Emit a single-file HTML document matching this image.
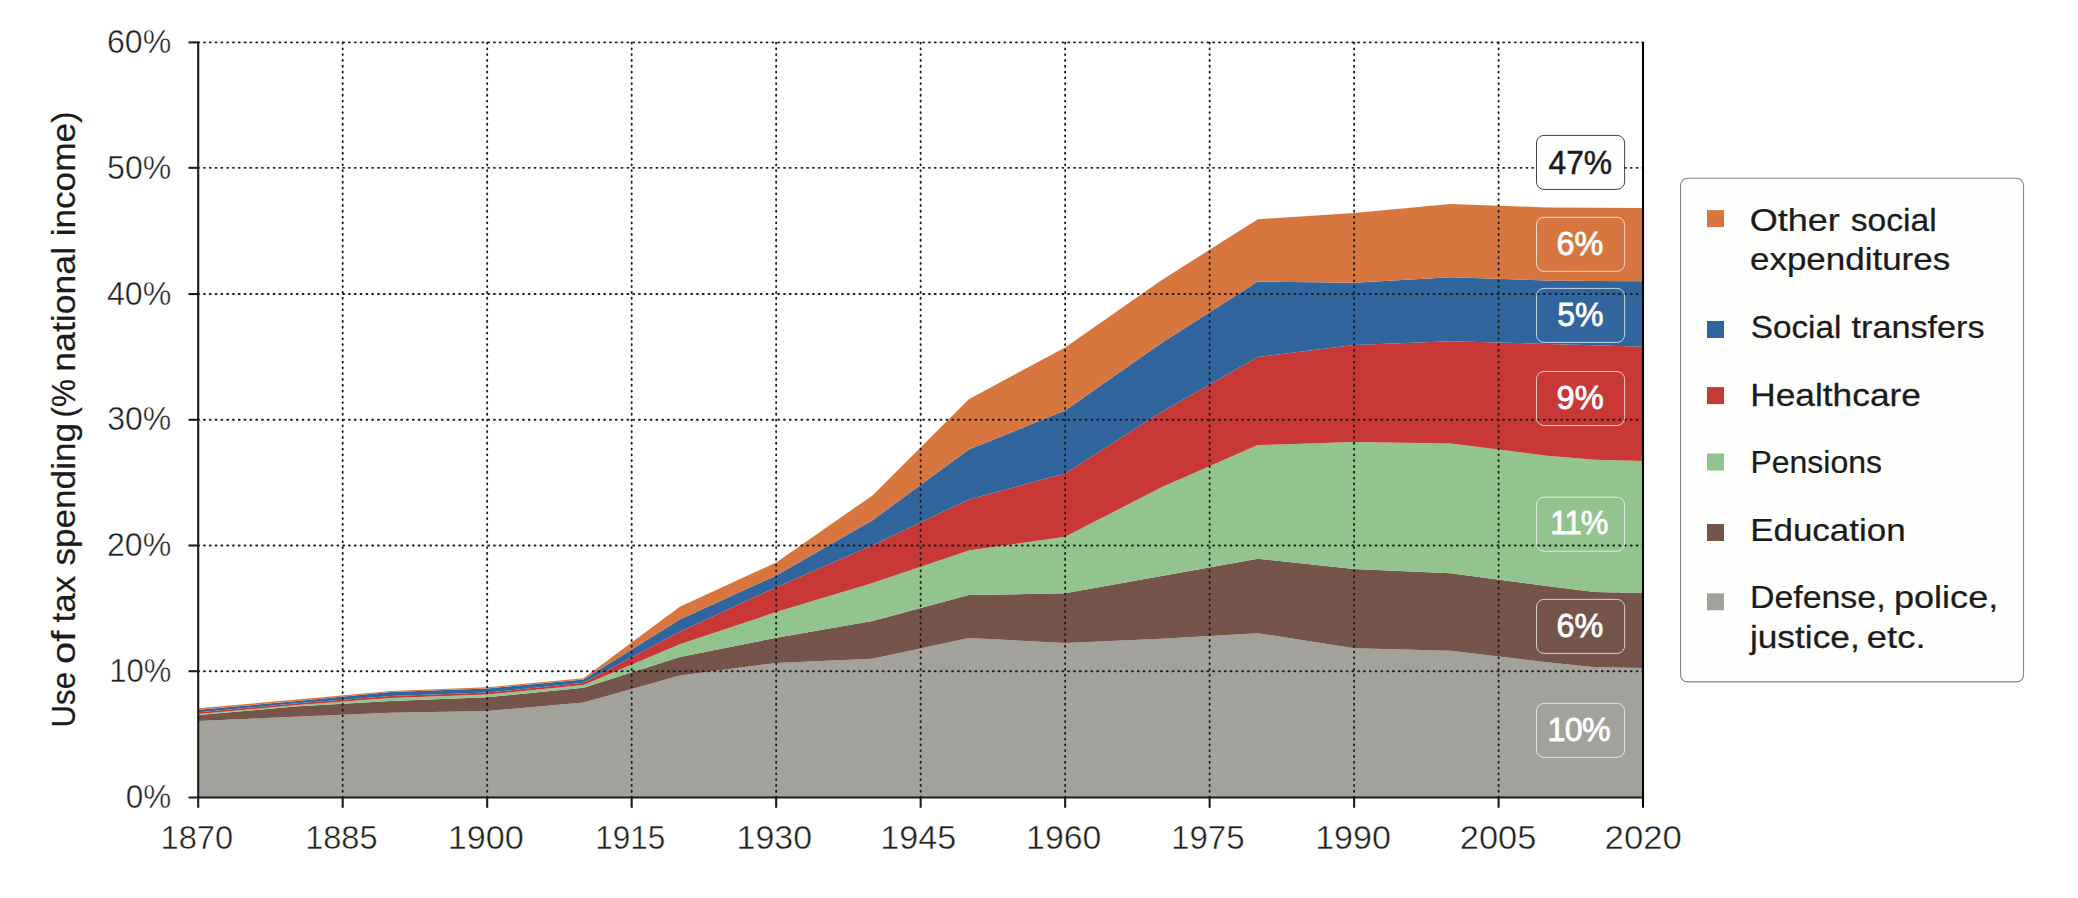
<!DOCTYPE html>
<html lang="en"><head><meta charset="utf-8">
<title>Use of tax spending (% national income)</title>
<style>
html,body{margin:0;padding:0;background:#ffffff;}
body{width:2078px;height:898px;overflow:hidden;}
svg{display:block;}
text{font-family:"Liberation Sans", sans-serif;fill:#1b1b1b;}
.tick{fill:#1f1f1f;stroke:#ffffff;stroke-width:0.45px;}
.leg{stroke:#1b1b1b;stroke-width:0.25px;}
.ylab{stroke:#1b1b1b;stroke-width:0.2px;}
.val{fill:#ffffff;stroke:#ffffff;stroke-width:0.8px;}
.grid{stroke:#1b1b1b;stroke-width:1.9;stroke-dasharray:0.9 4.9;stroke-linecap:round;fill:none;}
.axis{stroke:#1b1b1b;stroke-width:2.1;fill:none;}
</style></head><body>
<svg width="2078" height="898" viewBox="0 0 2078 898">
<rect x="0" y="0" width="2078" height="898" fill="#ffffff"/>
<g id="areas" shape-rendering="geometricPrecision">
<polygon fill="#a3a19c" points="198.2,721.0 294.5,716.7 390.9,712.7 487.2,711.0 583.5,702.4 679.8,675.4 776.2,663.0 872.5,658.7 968.8,638.1 1065.1,643.0 1161.5,638.8 1257.8,633.2 1354.1,648.2 1450.4,650.8 1546.8,662.2 1594.9,667.2 1643.1,667.9 1643.1,797.5 1594.9,797.5 1546.8,797.5 1450.4,797.5 1354.1,797.5 1257.8,797.5 1161.5,797.5 1065.1,797.5 968.8,797.5 872.5,797.5 776.2,797.5 679.8,797.5 583.5,797.5 487.2,797.5 390.9,797.5 294.5,797.5 198.2,797.5"/>
<polygon fill="#755549" points="198.2,715.0 294.5,706.6 390.9,701.1 487.2,697.3 583.5,687.7 679.8,656.9 776.2,637.8 872.5,620.9 968.8,595.1 1065.1,593.2 1161.5,576.0 1257.8,558.8 1354.1,568.9 1450.4,573.2 1546.8,585.9 1594.9,592.0 1643.1,592.9 1643.1,667.9 1594.9,667.2 1546.8,662.2 1450.4,650.8 1354.1,648.2 1257.8,633.2 1161.5,638.8 1065.1,643.0 968.8,638.1 872.5,658.7 776.2,663.0 679.8,675.4 583.5,702.4 487.2,711.0 390.9,712.7 294.5,716.7 198.2,721.0"/>
<polygon fill="#93c38e" points="198.2,714.0 294.5,705.3 390.9,698.0 487.2,694.4 583.5,685.1 679.8,644.3 776.2,612.1 872.5,583.1 968.8,550.6 1065.1,536.8 1161.5,487.3 1257.8,445.1 1354.1,441.9 1450.4,443.6 1546.8,455.7 1594.9,459.7 1643.1,461.1 1643.1,592.9 1594.9,592.0 1546.8,585.9 1450.4,573.2 1354.1,568.9 1257.8,558.8 1161.5,576.0 1065.1,593.2 968.8,595.1 872.5,620.9 776.2,637.8 679.8,656.9 583.5,687.7 487.2,697.3 390.9,701.1 294.5,706.6 198.2,715.0"/>
<polygon fill="#c83837" points="198.2,712.3 294.5,703.6 390.9,695.9 487.2,692.6 583.5,682.8 679.8,631.8 776.2,587.2 872.5,545.2 968.8,499.5 1065.1,473.5 1161.5,412.0 1257.8,357.1 1354.1,345.1 1450.4,341.3 1546.8,343.9 1594.9,345.3 1643.1,346.7 1643.1,461.1 1594.9,459.7 1546.8,455.7 1450.4,443.6 1354.1,441.9 1257.8,445.1 1161.5,487.3 1065.1,536.8 968.8,550.6 872.5,583.1 776.2,612.1 679.8,644.3 583.5,685.1 487.2,694.4 390.9,698.0 294.5,705.3 198.2,714.0"/>
<polygon fill="#30659e" points="198.2,709.7 294.5,701.3 390.9,692.0 487.2,688.4 583.5,679.4 679.8,619.6 776.2,575.5 872.5,520.2 968.8,449.5 1065.1,410.6 1161.5,343.1 1257.8,281.6 1354.1,282.8 1450.4,277.2 1546.8,280.6 1594.9,280.9 1643.1,281.2 1643.1,346.7 1594.9,345.3 1546.8,343.9 1450.4,341.3 1354.1,345.1 1257.8,357.1 1161.5,412.0 1065.1,473.5 968.8,499.5 872.5,545.2 776.2,587.2 679.8,631.8 583.5,682.8 487.2,692.6 390.9,695.9 294.5,703.6 198.2,712.3"/>
<polygon fill="#d8763f" points="198.2,708.3 294.5,699.7 390.9,691.0 487.2,687.3 583.5,678.2 679.8,606.8 776.2,562.5 872.5,495.4 968.8,399.2 1065.1,347.4 1161.5,280.2 1257.8,219.2 1354.1,213.0 1450.4,204.0 1546.8,207.4 1594.9,207.7 1643.1,208.0 1643.1,281.2 1594.9,280.9 1546.8,280.6 1450.4,277.2 1354.1,282.8 1257.8,281.6 1161.5,343.1 1065.1,410.6 968.8,449.5 872.5,520.2 776.2,575.5 679.8,619.6 583.5,679.4 487.2,688.4 390.9,692.0 294.5,701.3 198.2,709.7"/>
</g>
<g id="grid">
<line class="grid" x1="198.2" y1="671.20" x2="1643.1" y2="671.20"/>
<line class="grid" x1="198.2" y1="545.50" x2="1643.1" y2="545.50"/>
<line class="grid" x1="198.2" y1="419.80" x2="1643.1" y2="419.80"/>
<line class="grid" x1="198.2" y1="294.05" x2="1643.1" y2="294.05"/>
<line class="grid" x1="198.2" y1="167.85" x2="1643.1" y2="167.85"/>
<line class="grid" x1="198.2" y1="42.40" x2="1643.1" y2="42.40"/>
<line class="grid" x1="342.69" y1="797.5" x2="342.69" y2="42.4"/>
<line class="grid" x1="487.18" y1="797.5" x2="487.18" y2="42.4"/>
<line class="grid" x1="631.67" y1="797.5" x2="631.67" y2="42.4"/>
<line class="grid" x1="776.16" y1="797.5" x2="776.16" y2="42.4"/>
<line class="grid" x1="920.65" y1="797.5" x2="920.65" y2="42.4"/>
<line class="grid" x1="1065.14" y1="797.5" x2="1065.14" y2="42.4"/>
<line class="grid" x1="1209.63" y1="797.5" x2="1209.63" y2="42.4"/>
<line class="grid" x1="1354.12" y1="797.5" x2="1354.12" y2="42.4"/>
<line class="grid" x1="1498.61" y1="797.5" x2="1498.61" y2="42.4"/>
</g>
<g id="axes">
<line class="axis" x1="198.20" y1="41.4" x2="198.20" y2="807.8"/>
<line class="axis" style="stroke:#000" x1="1643.00" y1="42.0" x2="1643.00" y2="807.8"/>
<line class="axis" x1="188.5" y1="797.55" x2="1643.1" y2="797.55"/>
<line class="axis" x1="188.5" y1="671.20" x2="198.2" y2="671.20"/>
<line class="axis" x1="188.5" y1="545.50" x2="198.2" y2="545.50"/>
<line class="axis" x1="188.5" y1="419.80" x2="198.2" y2="419.80"/>
<line class="axis" x1="188.5" y1="294.05" x2="198.2" y2="294.05"/>
<line class="axis" x1="188.5" y1="167.85" x2="198.2" y2="167.85"/>
<line class="axis" x1="188.5" y1="42.40" x2="198.2" y2="42.40"/>
<line class="axis" x1="342.69" y1="797.5" x2="342.69" y2="807.8"/>
<line class="axis" x1="487.18" y1="797.5" x2="487.18" y2="807.8"/>
<line class="axis" x1="631.67" y1="797.5" x2="631.67" y2="807.8"/>
<line class="axis" x1="776.16" y1="797.5" x2="776.16" y2="807.8"/>
<line class="axis" x1="920.65" y1="797.5" x2="920.65" y2="807.8"/>
<line class="axis" x1="1065.14" y1="797.5" x2="1065.14" y2="807.8"/>
<line class="axis" x1="1209.63" y1="797.5" x2="1209.63" y2="807.8"/>
<line class="axis" x1="1354.12" y1="797.5" x2="1354.12" y2="807.8"/>
<line class="axis" x1="1498.61" y1="797.5" x2="1498.61" y2="807.8"/>
</g>
<g id="ticklabels">
<text class="tick" style="font-size:33.20px;" transform="translate(125.84,807.70) scale(0.9471,1)">0%</text>
<text class="tick" style="font-size:33.20px;" transform="translate(109.28,681.95) scale(0.9323,1)">10%</text>
<text class="tick" style="font-size:33.20px;" transform="translate(106.99,556.20) scale(0.9673,1)">20%</text>
<text class="tick" style="font-size:33.20px;" transform="translate(107.20,430.45) scale(0.9642,1)">30%</text>
<text class="tick" style="font-size:33.20px;" transform="translate(106.88,304.70) scale(0.9691,1)">40%</text>
<text class="tick" style="font-size:33.20px;" transform="translate(107.12,178.95) scale(0.9654,1)">50%</text>
<text class="tick" style="font-size:33.20px;" transform="translate(106.99,53.20) scale(0.9673,1)">60%</text>
<text class="tick" style="font-size:33.20px;" transform="translate(160.55,849.20) scale(0.9821,1)">1870</text>
<text class="tick" style="font-size:33.20px;" transform="translate(305.16,849.20) scale(0.9804,1)">1885</text>
<text class="tick" style="font-size:33.20px;" transform="translate(447.73,849.20) scale(1.0307,1)">1900</text>
<text class="tick" style="font-size:33.20px;" transform="translate(595.24,849.20) scale(0.9490,1)">1915</text>
<text class="tick" style="font-size:33.20px;" transform="translate(736.55,849.20) scale(1.0221,1)">1930</text>
<text class="tick" style="font-size:33.20px;" transform="translate(880.34,849.20) scale(1.0276,1)">1945</text>
<text class="tick" style="font-size:33.20px;" transform="translate(1026.06,849.20) scale(1.0192,1)">1960</text>
<text class="tick" style="font-size:33.20px;" transform="translate(1171.02,849.20) scale(0.9962,1)">1975</text>
<text class="tick" style="font-size:33.20px;" transform="translate(1315.14,849.20) scale(1.0278,1)">1990</text>
<text class="tick" style="font-size:33.20px;" transform="translate(1459.78,849.20) scale(1.0367,1)">2005</text>
<text class="tick" style="font-size:33.20px;" transform="translate(1604.56,849.20) scale(1.0468,1)">2020</text>
</g>
<g id="ylabel" transform="translate(75.10,0) rotate(-90)">
<text class="ylab" style="font-size:33.40px;" transform="translate(-727.42,0.00) scale(0.9339,1)">Use</text>
<text class="ylab" style="font-size:33.40px;" transform="translate(-664.00,0.00) scale(1.1976,1)">of</text>
<text class="ylab" style="font-size:33.40px;" transform="translate(-622.53,0.00) scale(1.0488,1)">tax</text>
<text class="ylab" style="font-size:33.40px;" transform="translate(-565.62,0.00) scale(1.0531,1)">spending</text>
<text class="ylab" style="font-size:33.40px;" transform="translate(-417.57,0.00) scale(0.9415,1)">(%</text>
<text class="ylab" style="font-size:33.40px;" transform="translate(-371.71,0.00) scale(1.0669,1)">national</text>
<text class="ylab" style="font-size:33.40px;" transform="translate(-236.27,0.00) scale(1.0516,1)">income)</text>
</g>
<g id="values">
<rect x="1536.5" y="135.4" width="88.1" height="54.0" rx="7.5" ry="7.5" fill="#fefefc" stroke="#383838" stroke-width="0.95"/>
<text class="val" style="font-size:33.10px;fill:#1b1b1b;stroke:#1b1b1b;stroke-width:0.5px" transform="translate(1548.48,174.00) scale(0.9612,1)">47%</text>
<rect x="1536.5" y="217.3" width="88.1" height="54.0" rx="7.5" ry="7.5" fill="none" stroke="#ffffff" stroke-opacity="0.7" stroke-width="1"/>
<text class="val" style="font-size:33.30px;" transform="translate(1556.58,255.20) scale(0.9711,1)">6%</text>
<rect x="1536.5" y="288.4" width="88.1" height="54.0" rx="7.5" ry="7.5" fill="none" stroke="#ffffff" stroke-opacity="0.7" stroke-width="1"/>
<text class="val" style="font-size:33.30px;" transform="translate(1557.32,326.20) scale(0.9618,1)">5%</text>
<rect x="1536.5" y="371.5" width="88.1" height="54.0" rx="7.5" ry="7.5" fill="none" stroke="#ffffff" stroke-opacity="0.7" stroke-width="1"/>
<text class="val" style="font-size:33.30px;" transform="translate(1556.55,409.20) scale(0.9782,1)">9%</text>
<rect x="1536.5" y="497.2" width="88.1" height="54.0" rx="7.5" ry="7.5" fill="none" stroke="#ffffff" stroke-opacity="0.7" stroke-width="1"/>
<text class="val" style="font-size:33.30px;;letter-spacing:-0.025em" transform="translate(1550.28,534.20) scale(0.9273,1)">11%</text>
<rect x="1536.5" y="599.4" width="88.1" height="54.0" rx="7.5" ry="7.5" fill="none" stroke="#ffffff" stroke-opacity="0.7" stroke-width="1"/>
<text class="val" style="font-size:33.30px;" transform="translate(1556.58,636.80) scale(0.9711,1)">6%</text>
<rect x="1536.5" y="703.4" width="88.1" height="54.0" rx="7.5" ry="7.5" fill="none" stroke="#ffffff" stroke-opacity="0.7" stroke-width="1"/>
<text class="val" style="font-size:33.30px;;letter-spacing:-0.020em" transform="translate(1547.58,741.10) scale(0.9675,1)">10%</text>
</g>
<g id="legend">
<rect x="1680.55" y="178.25" width="343.0" height="503.6" rx="7" ry="7" fill="#fefefc" stroke="#858585" stroke-width="1.1"/>
<rect x="1707" y="210.1" width="17" height="17" fill="#d8763f"/>
<text class="leg" style="font-size:31.60px;" transform="translate(1749.79,231.45) scale(1.1399,1)">Other</text>
<text class="leg" style="font-size:31.60px;" transform="translate(1850.78,231.45) scale(1.0641,1)">social</text>
<text class="leg" style="font-size:31.60px;" transform="translate(1750.01,269.60) scale(1.1062,1)">expenditures</text>
<rect x="1707" y="321.0" width="17" height="17" fill="#30659e"/>
<text class="leg" style="font-size:31.60px;" transform="translate(1750.70,337.50) scale(1.0538,1)">Social</text>
<text class="leg" style="font-size:31.60px;" transform="translate(1851.49,337.50) scale(1.0837,1)">transfers</text>
<rect x="1707" y="387.1" width="17" height="17" fill="#c83837"/>
<text class="leg" style="font-size:31.60px;" transform="translate(1750.19,405.60) scale(1.1173,1)">Healthcare</text>
<rect x="1707" y="453.5" width="17" height="17" fill="#93c38e"/>
<text class="leg" style="font-size:31.60px;" transform="translate(1750.46,473.40) scale(1.0117,1)">Pensions</text>
<rect x="1707" y="524.0" width="17" height="17" fill="#755549"/>
<text class="leg" style="font-size:31.60px;" transform="translate(1750.22,541.00) scale(1.1061,1)">Education</text>
<rect x="1707" y="593.3" width="17" height="17" fill="#a3a19c"/>
<text class="leg" style="font-size:31.60px;" transform="translate(1749.90,608.40) scale(1.0733,1)">Defense,</text>
<text class="leg" style="font-size:31.60px;" transform="translate(1893.95,608.40) scale(1.1420,1)">police,</text>
<text class="leg" style="font-size:31.60px;" transform="translate(1749.88,647.50) scale(1.1173,1)">justice,</text>
<text class="leg" style="font-size:31.60px;" transform="translate(1866.85,647.50) scale(1.1525,1)">etc.</text>
</g>
</svg></body></html>
